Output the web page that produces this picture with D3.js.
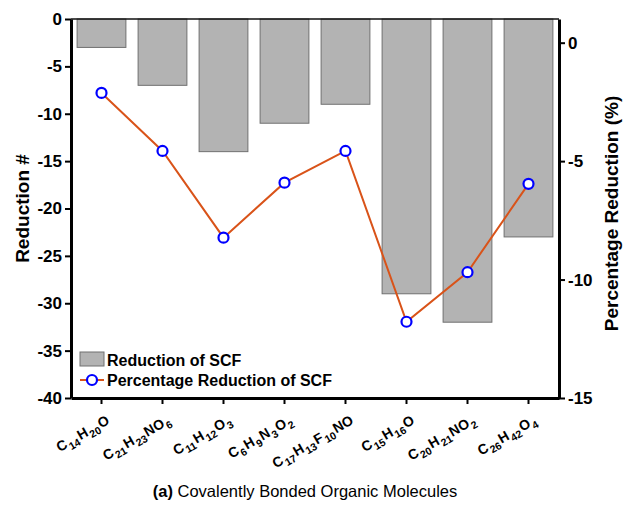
<!DOCTYPE html>
<html>
<head>
<meta charset="utf-8">
<script src="https://cdn.jsdelivr.net/npm/d3@7"></script>
<style>
  body { margin: 0; background: #fff; }
  svg { font-family: 'Liberation Sans', Arial, sans-serif; }
</style>
</head>
<body>
<div class="chart-container"></div>
<script>
const width = 623;
const height = 506;

// data
const molecules = ['C14H20O', 'C21H23NO6', 'C11H12O3', 'C6H9N3O2', 'C17H13F10NO', 'C15H16O', 'C20H21NO2', 'C26H42O4'];
const reductionCount = [-3, -7, -14, -11, -9, -29, -32, -23];
const reductionPercent = [-2.12, -4.57, -8.23, -5.91, -4.57, -11.78, -9.69, -5.96];
const leftTicks = [0, -5, -10, -15, -20, -25, -30, -35, -40];
const rightTicks = [0, -5, -10, -15];

const plot = { left: 71, right: 559, top: 19, bottom: 398 };

const svg = d3.select('.chart-container').append('svg')
  .attr('xmlns', 'http://www.w3.org/2000/svg')
  .attr('width', width)
  .attr('height', height);

const scaleX = d3.scaleBand()
  .domain(molecules)
  .range([plot.left, plot.right])
  .paddingInner(0.2)
  .paddingOuter(0.1);
const scaleY = d3.scaleLinear().domain([0, -40]).range([plot.top, plot.bottom]);
const scaleY2 = d3.scaleLinear().domain([1, -15]).range([plot.top, plot.bottom]);

// bars
svg.append('g').selectAll('rect')
  .data(molecules)
  .join('rect')
  .attr('x', (d) => scaleX(d))
  .attr('y', scaleY(0))
  .attr('width', scaleX.bandwidth())
  .attr('height', (d, i) => scaleY(reductionCount[i]) - scaleY(0))
  .attr('fill', '#b3b3b3')
  .attr('stroke', '#707070')
  .attr('stroke-width', 1);

// top frame line
svg.append('line')
  .attr('x1', plot.left).attr('x2', plot.right)
  .attr('y1', plot.top).attr('y2', plot.top)
  .attr('stroke', '#111').attr('stroke-width', 1.5);

let styleAxis = (g) => {
  g.select('.domain').attr('stroke', '#000').attr('stroke-width', 3);
  g.selectAll('.tick line').attr('stroke', '#000').attr('stroke-width', 2);
  g.selectAll('.tick text')
    .attr('fill', '#000')
    .style('font-size', '17px')
    .style('font-weight', 'bold');
};

const plainFormat = (d) => String(d);

const axisLeft = svg.append('g')
  .attr('transform', 'translate(' + plot.left + ',0)')
  .call(d3.axisLeft(scaleY).tickValues(leftTicks).tickFormat(plainFormat)
    .tickSize(6).tickSizeOuter(0).tickPadding(3));
styleAxis(axisLeft);

const axisRight = svg.append('g')
  .attr('transform', 'translate(' + plot.right + ',0)')
  .call(d3.axisRight(scaleY2).tickValues(rightTicks).tickFormat(plainFormat)
    .tickSize(6).tickSizeOuter(0).tickPadding(3));
styleAxis(axisRight);

const axisBottom = svg.append('g')
  .attr('transform', 'translate(0,' + plot.bottom + ')')
  .call(d3.axisBottom(scaleX).tickSize(6).tickSizeOuter(0));
styleAxis(axisBottom);

// chemical formula labels with subscripts
axisBottom.selectAll('.tick text').each(function (d) {
  const text = d3.select(this);
  text.text(null)
    .attr('y', null).attr('dy', null)
    .attr('text-anchor', 'end')
    .attr('transform', 'translate(9,25) rotate(-30)')
    .style('font-size', '14px');
  const parts = d.match(/[A-Z][a-z]?|\d+/g);
  let sub = false;
  parts.forEach((p) => {
    const isNum = /\d/.test(p);
    const span = text.append('tspan').text(p);
    if (isNum) {
      span.style('font-size', '10.5px').attr('dy', sub ? 0 : 4).attr('dx', 1);
      sub = true;
    } else {
      span.attr('dy', sub ? -4 : 0).attr('dx', sub ? 1 : 0);
      sub = false;
    }
  });
});

// percentage line
const lineGen = d3.line()
  .x((d, i) => scaleX(molecules[i]) + scaleX.bandwidth() / 2)
  .y((d) => scaleY2(d));

svg.append('path')
  .attr('d', lineGen(reductionPercent))
  .attr('fill', 'none')
  .attr('stroke', '#d95319')
  .attr('stroke-width', 2);

svg.append('g').selectAll('circle')
  .data(reductionPercent)
  .join('circle')
  .attr('cx', (d, i) => scaleX(molecules[i]) + scaleX.bandwidth() / 2)
  .attr('cy', (d) => scaleY2(d))
  .attr('r', 5)
  .attr('fill', '#fff')
  .attr('stroke', '#0000ff')
  .attr('stroke-width', 2.2);

// axis titles
svg.append('text')
  .attr('transform', 'translate(29,' + ((plot.top + plot.bottom) / 2) + ') rotate(-90)')
  .attr('text-anchor', 'middle')
  .style('font-size', '19px').style('font-weight', 'bold')
  .text('Reduction #');

svg.append('text')
  .attr('transform', 'translate(618,' + ((plot.top + plot.bottom) / 2 + 5) + ') rotate(-90)')
  .attr('text-anchor', 'middle')
  .style('font-size', '19px').style('font-weight', 'bold')
  .text('Percentage Reduction (%)');

// legend
const legend = svg.append('g').attr('transform', 'translate(80,352)');
legend.append('rect')
  .attr('x', 0).attr('y', 0).attr('width', 24).attr('height', 14)
  .attr('fill', '#b3b3b3').attr('stroke', '#707070');
legend.append('text')
  .attr('x', 27).attr('y', 14)
  .style('font-size', '16px').style('font-weight', 'bold')
  .text('Reduction of SCF');
legend.append('line')
  .attr('x1', 0).attr('x2', 24).attr('y1', 28).attr('y2', 28)
  .attr('stroke', '#d95319').attr('stroke-width', 2);
legend.append('circle')
  .attr('cx', 12).attr('cy', 28).attr('r', 5)
  .attr('fill', '#fff').attr('stroke', '#0000ff').attr('stroke-width', 2.2);
legend.append('text')
  .attr('x', 27).attr('y', 34)
  .style('font-size', '16px').style('font-weight', 'bold')
  .text('Percentage Reduction of SCF');

// caption
const caption = svg.append('text')
  .attr('x', 305).attr('y', 497)
  .attr('text-anchor', 'middle')
  .style('font-size', '16.5px');
caption.append('tspan').style('font-weight', 'bold').text('(a)');
caption.append('tspan').text(' Covalently Bonded Organic Molecules');
</script>
</body>
</html>
